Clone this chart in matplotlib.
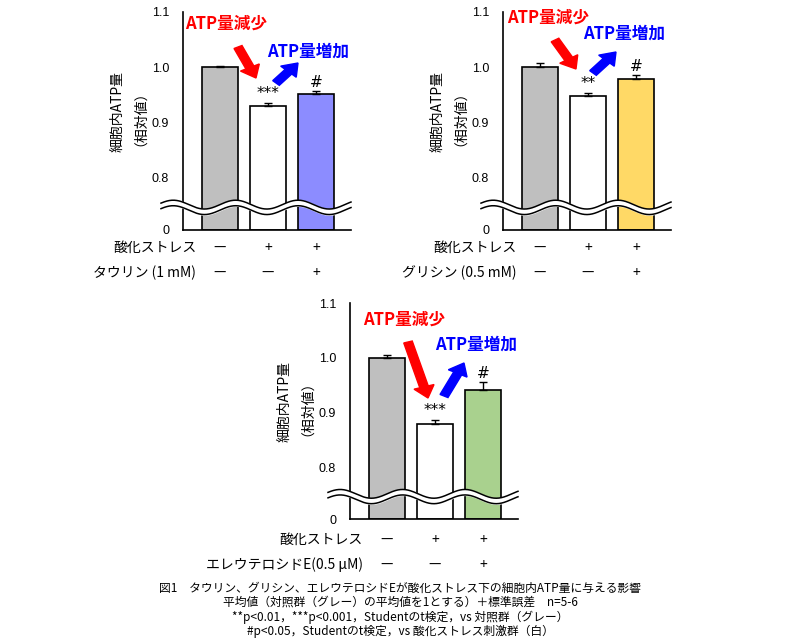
import numpy as np
import matplotlib
matplotlib.use("Agg")
import matplotlib.pyplot as plt

plt.rcParams["font.family"] = ["Noto Sans CJK JP"]

# data
values_taurine = [1.0, 0.930, 0.952]
errors_taurine = [0.003, 0.005, 0.004]
values_glycine = [1.0, 0.948, 0.979]
errors_glycine = [0.008, 0.006, 0.006]
values_eleu = [1.0, 0.878, 0.940]
errors_eleu = [0.005, 0.008, 0.015]
stress = ["—", "+", "+"]
treat = ["—", "—", "+"]
sig_labels = ["", "***", "#"]
sig_labels_gly = ["", "**", "#"]
ytick_vals = [0.8, 0.9, 1.0, 1.1]
ytick_labels = ["0.8", "0.9", "1.0", "1.1"]

W, H = 800, 644
fig = plt.figure(figsize=(8, 6.44), dpi=100)
YMIN = 0.705  # displayed as "0"
SP = 48.0     # px between bar centers
OFF = 37.0    # px from axis to first bar center
AW = 168.0    # axis width px

def fx(x): return x / W
def fy(y): return 1 - y / H

def panel(ax_left, ax_top, ax_bottom, vals, errs, color, sigs, treat_label, rows_y,
          red_txt, red_arrow, blue_txt, blue_arrow):
    ax = fig.add_axes([fx(ax_left), fy(ax_bottom), fx(AW), (ax_bottom - ax_top) / H])
    x = np.arange(3)
    colors = ["#BFBFBF", "white", color]
    ax.bar(x, [v - YMIN for v in vals], bottom=YMIN, width=0.73, color=colors,
           edgecolor="black", linewidth=1.2)
    ax.errorbar(x, vals, yerr=[[0]*3, errs], fmt="none", ecolor="black",
                elinewidth=1, capsize=3)
    for xi, v, e, s in zip(x, vals, errs, sigs):
        if s:
            ax.text(xi, v + e + 0.003, s, ha="center", va="bottom", fontsize=11,
                    family="DejaVu Sans")
    ax.set_xlim(-OFF / SP, (AW - OFF) / SP)
    ax.set_ylim(YMIN, 1.1)
    ax.set_yticks([YMIN] + ytick_vals)
    ax.set_yticklabels(["0"] + ytick_labels, fontsize=9, family="Liberation Sans")
    ax.tick_params(axis="y", length=0, pad=10)
    ax.set_xticks([])
    for s in ["top", "right"]:
        ax.spines[s].set_visible(False)
    ax.spines["left"].set_linewidth(1.2)
    ax.spines["bottom"].set_linewidth(1.2)
    # wave break
    xs = np.linspace(-(OFF + 22) / SP, (AW - OFF) / SP, 300)
    yc = 0.745 + 0.008 * np.sin(xs * 2 * np.pi / 1.3)
    ax.fill_between(xs, yc - 0.004, yc + 0.006, color="white", zorder=5, clip_on=False)
    ax.plot(xs, yc + 0.006, color="black", lw=1.1, zorder=6, clip_on=False)
    ax.plot(xs, yc - 0.004, color="black", lw=1.1, zorder=6, clip_on=False)
    # ylabel
    fig.text(fx(ax_left - 58), fy((ax_top + ax_bottom) / 2 - 10), "細胞内ATP量\n（相対値）",
             rotation=90, ha="center", va="center", fontsize=10, linespacing=1.1)
    # rows
    cx = [ax_left + OFF + SP * i for i in range(3)]
    for label, marks, yy in zip(["酸化ストレス", treat_label], [stress, treat], rows_y):
        fig.text(fx(ax_left + 13), fy(yy), label, ha="right", va="center", fontsize=10)
        for c, m in zip(cx, marks):
            fig.text(fx(c), fy(yy), m, ha="center", va="center", fontsize=10)
    fig.text(fx(red_txt[0]), fy(red_txt[1]), "ATP量減少", color="#FF0000",
             fontsize=12, weight="bold", va="center")
    fig.text(fx(blue_txt[0]), fy(blue_txt[1]), "ATP量増加", color="#0000FF",
             fontsize=12, weight="bold", va="center")
    for (a, col) in [(red_arrow, "#FF0000"), (blue_arrow, "#0000FF")]:
        fig.patches.append(matplotlib.patches.FancyArrow(
            fx(a[0]), fy(a[1]), fx(a[2] - a[0]), fy(a[3]) - fy(a[1]),
            width=0.011, head_width=0.026, head_length=0.018,
            length_includes_head=True, color=col, transform=fig.transFigure))

panel(183, 12, 230, values_taurine, errors_taurine, "#8C8CFF", sig_labels,
      "タウリン (1 mM)", [248, 273], (185, 24), (238, 47, 256, 78), (267, 52), (276, 83, 298, 63))
panel(503, 12, 230, values_glycine, errors_glycine, "#FFD966", sig_labels_gly,
      "グリシン (0.5 mM)", [248, 273], (507, 18), (555, 40, 576, 69), (583, 34), (593, 73, 616, 52))
panel(350, 303, 519, values_eleu, errors_eleu, "#A9D18E", sig_labels,
      "エレウテロシドE(0.5 μM)", [540, 565], (363, 320), (408, 342, 428, 398), (435, 345), (444, 396, 464, 363))

caption = ["図1　タウリン、グリシン、エレウテロシドEが酸化ストレス下の細胞内ATP量に与える影響",
           "平均値（対照群（グレー）の平均値を1とする）＋標準誤差　n=5-6",
           "**p<0.01，***p<0.001，Studentのt検定，vs 対照群（グレー）",
           "#p<0.05，Studentのt検定，vs 酸化ストレス刺激群（白）"]
for i, line in enumerate(caption):
    fig.text(0.5, fy(588 + 14.5 * i), line, ha="center", va="center", fontsize=8.5)

fig.savefig("out.png", dpi=100)
